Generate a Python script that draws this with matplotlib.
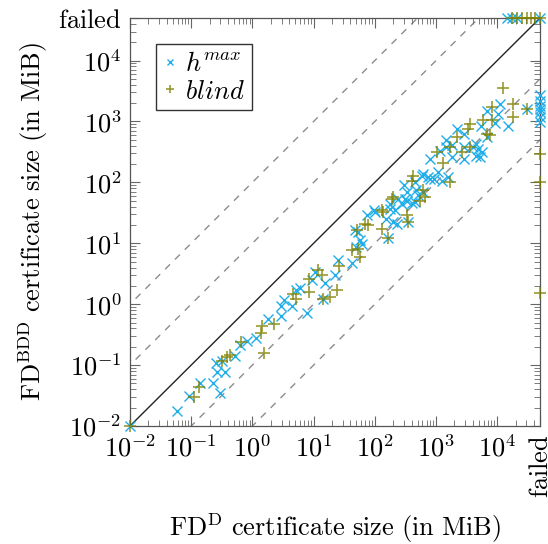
import numpy as np
import matplotlib
matplotlib.use("Agg")
import matplotlib.pyplot as plt
from matplotlib.ticker import FixedLocator, FixedFormatter, NullFormatter

plt.rcParams['mathtext.fontset'] = 'cm'
plt.rcParams['font.family'] = ['DejaVu Serif']

FAILED = 5e4

# log10 exponents of certificate sizes (MiB); "F" = failed
hmax_x = [-2, -1.24, -1.03, -0.86, -0.65, -0.53, -0.58, -0.45, -0.59, -0.50, -0.29, -0.20, -0.09, 0.06,
          0.25, 0.46, 0.46, 0.51, 0.65, 0.72, 0.78, 0.89, 0.97, 1.02, 1.18, 1.16, 1.35, 1.40,
          1.62, 1.68, 1.73, 1.76, 1.79, 1.70, 1.87, 1.98, 2.00, 2.25, 2.33, 2.19, 2.30, 2.36, 2.55,
          2.22, 2.38, 2.52, 2.60, 2.66, 2.47, 2.52, 2.68, 2.79, 2.77, 2.90, 2.25, 2.44, 2.49, 2.71,
          2.66, 2.79, 2.87, 2.96, 3.09, 3.20, 3.04, 2.90, 3.26, 3.45, 3.07, 3.17, 3.26, 3.45,
          3.61, 3.69, 3.75, 3.66, 3.72, 3.66, 3.83, 3.17, 3.34, 3.45, 3.74, 3.96, 4.17,
          4.02, 3.83, 4.05, 4.48,
          "F", "F", "F", "F", "F", "F", "F",
          4.155, 4.24, 4.32, "F"]
hmax_y = [-2, -1.75, -1.51, -1.30, -1.29, -1.45, -1.11, -1.11, -0.96, -0.93, -0.85, -0.67, -0.61, -0.55,
          -0.24, -0.19, -0.03, 0.07, -0.03, 0.24, 0.27, -0.15, 0.39, 0.53, 0.34, 0.09, 0.48, 0.72,
          0.67, 1.21, 1.19, 1.05, 0.99, 0.94, 1.46, 1.54, 1.51, 1.57, 1.54, 1.40, 1.35, 1.31, 1.35,
          1.09, 1.73, 1.70, 1.66, 1.68, 1.95, 1.84, 1.87, 1.84, 2.11, 2.06, 1.65, 1.65, 1.73, 1.79,
          2.01, 2.14, 2.09, 2.06, 2.03, 2.09, 2.17, 2.39, 2.41, 2.39, 2.52, 2.58, 2.61, 2.58,
          2.58, 2.55, 2.50, 2.44, 2.41, 2.63, 2.74, 2.69, 2.88, 2.80, 2.93, 2.97, 2.92,
          3.13, 3.18, 3.28, 3.21,
          3.43, 3.34, 3.26, 3.21, 3.15, 3.07, 2.99,
          "F", "F", "F", "F"]

blind_x = [-2, -0.95, -0.87, -0.50, -0.42, -0.37, -0.18, 0.14, 0.15, 0.35, 0.19, 0.67, 0.72, 0.92,
           0.93, 1.07, 1.13, 1.15, 1.27, 1.39, 1.42,
           1.73, 1.62, 1.76, 1.71, 1.84, 1.89, 2.11, 2.22, 2.11, 2.14, 2.52, 2.55, 2.28, 2.30,
           2.74, 2.82, 2.79, 2.62, 2.60, 3.23, 3.12, 3.01, 3.23, 3.42, 3.56, 3.34, 3.83, 3.88,
           3.53, 3.56, 3.77, 3.91, 3.91, 4.26, 4.26, 4.10, 4.48,
           "F", "F", "F",
           4.24, 4.32, 4.40, 4.48, 4.56, 4.62, "F"]
blind_y = [-2, -1.53, -1.36, -0.93, -0.86, -0.84, -0.62, -0.47, -0.36, -0.32, -0.80, 0.17, 0.09, 0.20,
           0.42, 0.56, 0.48, 0.08, 0.12, 0.23, 0.62,
           0.91, 0.89, 0.78, 1.21, 1.32, 1.30, 1.24, 1.09, 1.55, 1.51, 1.46, 1.35, 1.73, 1.76,
           1.70, 1.76, 1.87, 2.10, 2.03, 2.01, 2.31, 2.50, 2.58, 2.50, 2.58, 2.74, 2.80, 2.77,
           2.88, 2.96, 3.02, 3.02, 3.23, 3.28, 3.07, 3.55, 3.21,
           2.47, 2.00, 0.18,
           "F", "F", "F", "F", "F", "F", "F"]

tick_vals = [1e-2, 1e-1, 1e0, 1e1, 1e2, 1e3, 1e4, FAILED]
tick_labels = [r'$10^{-2}$', r'$10^{-1}$', r'$10^{0}$', r'$10^{1}$', r'$10^{2}$',
               r'$10^{3}$', r'$10^{4}$', r'$\mathrm{failed}$']


def to_val(a):
    return np.array([FAILED if v == "F" else 10.0 ** v for v in a])


fig = plt.figure(figsize=(5.48, 5.44), dpi=100)
ax = fig.add_axes([130 / 548, 1 - 426 / 544, 410 / 548, 408 / 544])
ax.set_xscale('log')
ax.set_yscale('log')
ax.set_xlim(1e-2, FAILED)
ax.set_ylim(1e-2, FAILED)

# reference lines
ref = np.array([1e-4, 1e7])
ax.plot(ref, ref, color='#222222', lw=1.0, zorder=2)
for k in [10, 100, 0.1, 0.01]:
    ax.plot(ref, ref * k, color='#8c8c8c', lw=1.0, dashes=(5, 5), zorder=1)

blue = '#1FAEEA'
olive = '#808000'
ax.plot(to_val(hmax_x), to_val(hmax_y), linestyle='none', marker='x', ms=7.5, mew=1.0,
        color=blue, label=r'$h^{max}$', zorder=3, clip_on=False)
ax.plot(to_val(blind_x), to_val(blind_y), linestyle='none', marker='+', ms=9, mew=1.2,
        color=olive, alpha=0.8, label=r'$blind$', zorder=4, clip_on=False)

for axis in (ax.xaxis, ax.yaxis):
    axis.set_major_locator(FixedLocator(tick_vals))
    axis.set_major_formatter(FixedFormatter(tick_labels))
    minors = [m * 10.0 ** e for e in range(-2, 5) for m in range(2, 10) if m * 10.0 ** e < FAILED]
    axis.set_minor_locator(FixedLocator(minors))
    axis.set_minor_formatter(NullFormatter())

ax.tick_params(which='both', direction='in', top=True, right=True, colors='#666666',
               labelcolor='black', labelsize=19)
ax.tick_params(which='major', length=7, width=0.8, pad=6)
ax.tick_params(which='minor', length=4.5, width=0.6)
lab = ax.get_xticklabels()[-1]
lab.set_rotation(90)
lab.set_va('top')

for s in ax.spines.values():
    s.set_color('#555555')
    s.set_linewidth(0.9)

ax.set_xlabel(r'$\mathrm{FD}^{\mathrm{D}}\ \mathrm{certificate\ size\ (in\ MiB)}$', fontsize=19, labelpad=10)
ax.set_ylabel(r'$\mathrm{FD}^{\mathrm{BDD}}\ \mathrm{certificate\ size\ (in\ MiB)}$', fontsize=19, labelpad=6)

leg = ax.legend(loc='upper left', fontsize=19, frameon=True, fancybox=False, edgecolor='#333333',
                framealpha=1, borderaxespad=1.0, handlelength=0.5, handletextpad=0.35,
                borderpad=0.25, labelspacing=0.1, markerscale=0.6)
leg.get_frame().set_linewidth(1.0)

fig.savefig('out.png', dpi=100)
